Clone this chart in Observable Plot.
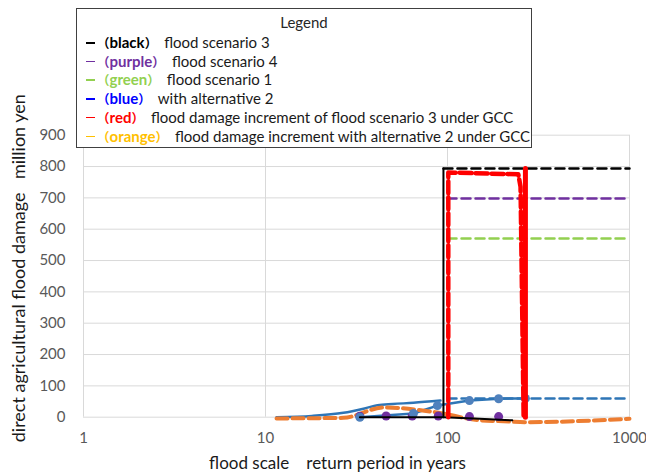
<!DOCTYPE html>
<html>
<head>
<meta charset="utf-8">
<script src="https://cdn.jsdelivr.net/npm/d3@7"></script>
<script src="https://cdn.jsdelivr.net/npm/@observablehq/plot@0.6"></script>
<style>
  html, body { margin: 0; padding: 0; background: white; }
  #wrap { position: relative; width: 646px; height: 474px; overflow: hidden; }
  #legend {
    position: absolute; left: 76px; top: 8px; width: 456px; height: 140px;
    border: 1px solid #404040; background: white; box-sizing: border-box;
    font-family: Lato, "Noto Sans", sans-serif; font-size: 15px; color: #1a1a1a;
  }
  #legend .title { position: absolute; left: 0; width: 100%; top: 4px; text-align: center; color: #262626; line-height: 18px; }
  #legend .row { position: absolute; left: 9px; white-space: nowrap; height: 18px; line-height: 18px; }
  #legend .row > span { display: inline-block; height: 18px; line-height: 18px; vertical-align: top; }
  #legend .dash { width: 9px; }
  #legend .dash i { display: block; height: 1.5px; margin-top: 9px; }
  #legend .par { font-family: "Noto Sans CJK JP", sans-serif; font-weight: bold; font-size: 12.5px; }
  #legend .par.l { margin-left: 2px; }
  #legend .par.r { margin-right: 2px; }
  #legend .w { font-weight: bold; }
</style>
</head>
<body>
<div id="wrap">
  <div id="chart"></div>
  <div id="legend"></div>
</div>
<script>
// ---- data (return period in years, damage in million yen) ----
const xTicks = [1, 10, 100, 1000];
const yTicks = [0, 100, 200, 300, 400, 500, 600, 700, 800, 900];

// black: flood scenario 3
const blackSolidT = [33, 46, 64, 95, 95];
const blackSolidV = [0, 0, 0, 0, 794];
const blackTailT = [95, 150, 227];
const blackTailV = [0, -5, -10];
const blackDashT = [95, 1000];
const blackDashV = [794, 794];

// purple: flood scenario 4
const purpleDashT = [100, 1000];
const purpleDashV = [698, 698];
const purplePtT = [33, 46, 64, 89, 132, 191];
const purplePtV = [3, 4, 4, 4, 2, 2];

// green: flood scenario 1
const greenDashT = [100, 1000];
const greenDashV = [570, 570];

// blue: with alternative 2
const blueDashT = [100, 1000];
const blueDashV = [60, 60];
const blueCurveT = [11.5, 18, 26.8, 35, 41.2, 50, 65, 91.5];
const blueCurveV = [0, 4, 14, 28, 38, 42, 46, 53];
const bluePtT = [33, 65, 88, 132, 191, 268];
const bluePtV = [0, 12, 37, 53, 59, 60];

// red: increment of flood scenario 3 under GCC
const redSolidT = [268, 268];
const redSolidV = [794, 0];
const redDashT = [101, 101, 245, 252, 262];
const redDashV = [0, 781, 775, 735, 0];

// orange: increment with alternative 2 under GCC
const orangeT = [11.5, 26.8, 44.5, 88, 150, 203, 268, 1000];
const orangeV = [-4, -2, 31, 15, -10, -13, -16, -5];

const pts = (T, V) => T.map((t, i) => ({t, v: V[i]}));

const legendItems = [
  {word: "black", color: "#000000", text: "flood scenario 3"},
  {word: "purple", color: "#7030a0", text: "flood scenario 4"},
  {word: "green", color: "#92d050", text: "flood scenario 1"},
  {word: "blue", color: "#0000ff", text: "with alternative 2"},
  {word: "red", color: "#ff0000", text: "flood damage increment of flood scenario 3 under GCC"},
  {word: "orange", color: "#ffc000", text: "flood damage increment with alternative 2 under GCC"}
];

const C = {black: "#000000", purple: "#7030a0", green: "#92d050", blue: "#2e75b6", bluePt: "#4f81bd", red: "#ff0000", orange: "#ed7d31", grid: "#d9d9d9"};

const chart = Plot.plot({
  width: 646,
  height: 474,
  marginLeft: 83,
  marginRight: 17,
  marginTop: 134.7,
  marginBottom: 57.3,
  style: {fontFamily: "Lato, sans-serif", background: "white", overflow: "visible"},
  x: {type: "log", domain: [1, 1000]},
  y: {domain: [0, 900]},
  marks: [
    Plot.gridY(yTicks, {stroke: C.grid, strokeOpacity: 1, strokeWidth: 1}),
    Plot.gridX(xTicks, {stroke: C.grid, strokeOpacity: 1, strokeWidth: 1}),
    Plot.axisX(xTicks, {tickSize: 0, tickPadding: 15, fill: "#595959", fontSize: 15, label: null, tickFormat: d => String(d)}),
    Plot.axisY(yTicks, {tickSize: 0, tickPadding: 18, fill: "#595959", fontSize: 15, label: null}),
    Plot.lineY(pts(greenDashT, greenDashV), {x: "t", y: "v", stroke: C.green, strokeWidth: 2.5, strokeDasharray: "9,5"}),
    Plot.lineY(pts(purpleDashT, purpleDashV), {x: "t", y: "v", stroke: C.purple, strokeWidth: 2.5, strokeDasharray: "9,5"}),
    Plot.lineY(pts(blackDashT, blackDashV), {x: "t", y: "v", stroke: C.black, strokeWidth: 2.5, strokeDasharray: "9,5"}),
    Plot.lineY(pts(blueDashT, blueDashV), {x: "t", y: "v", stroke: C.blue, strokeWidth: 2.5, strokeDasharray: "9,5"}),
    Plot.line(pts(blueCurveT, blueCurveV), {x: "t", y: "v", stroke: C.blue, strokeWidth: 2.5, curve: "monotone-x"}),
    Plot.line(pts(bluePtT, bluePtV), {x: "t", y: "v", stroke: C.blue, strokeWidth: 2.5}),
    Plot.line(pts(orangeT, orangeV), {x: "t", y: "v", stroke: C.orange, strokeWidth: 4, strokeDasharray: "11,5", curve: "monotone-x"}),
    Plot.dot(pts(purplePtT, purplePtV), {x: "t", y: "v", r: 4.5, fill: C.purple, stroke: "none"}),
    Plot.dot(pts(bluePtT, bluePtV), {x: "t", y: "v", r: 4.5, fill: C.bluePt, stroke: "none"}),
    Plot.line(pts(blackSolidT, blackSolidV), {x: "t", y: "v", stroke: C.black, strokeWidth: 2}),
    Plot.line(pts(blackTailT, blackTailV), {x: "t", y: "v", stroke: C.black, strokeWidth: 2}),
    Plot.line(pts(redSolidT, redSolidV), {x: "t", y: "v", stroke: C.red, strokeWidth: 5}),
    Plot.line(pts(redDashT, redDashV), {x: "t", y: "v", stroke: C.red, strokeWidth: 4.5, strokeDasharray: "12,4"}),
    Plot.text(["flood scale\u2003 return period in years"], {frameAnchor: "bottom", textAnchor: "middle", dx: -19, dy: 46, fontSize: 17, fill: "#1a1a1a", lineAnchor: "middle"}),
    Plot.text(["direct agricultural flood damage\u2003million yen"], {frameAnchor: "left", textAnchor: "middle", dx: -64, dy: -8, rotate: -90, fontSize: 18, fill: "#1a1a1a", lineAnchor: "middle"})
  ]
});
document.getElementById("chart").appendChild(chart);

// legend overlay
const lg = document.getElementById("legend");
const t = document.createElement("div");
t.className = "title";
t.textContent = "Legend";
lg.appendChild(t);
legendItems.forEach((d, i) => {
  const row = document.createElement("div");
  row.className = "row";
  row.style.top = (24 + i * 18.7) + "px";
  const dash = document.createElement("span");
  dash.className = "dash";
  dash.innerHTML = '<i style="background:' + d.color + '"></i>';
  row.appendChild(dash);
  const lab = document.createElement("span");
  lab.style.color = d.color;
  lab.innerHTML = '<span class="par l">（</span><span class="w">' + d.word + '</span><span class="par r">）</span>';
  row.appendChild(lab);
  const tx = document.createElement("span");
  tx.textContent = d.text;
  tx.style.marginLeft = "5px";
  row.appendChild(tx);
  lg.appendChild(row);
});
</script>
</body>
</html>
